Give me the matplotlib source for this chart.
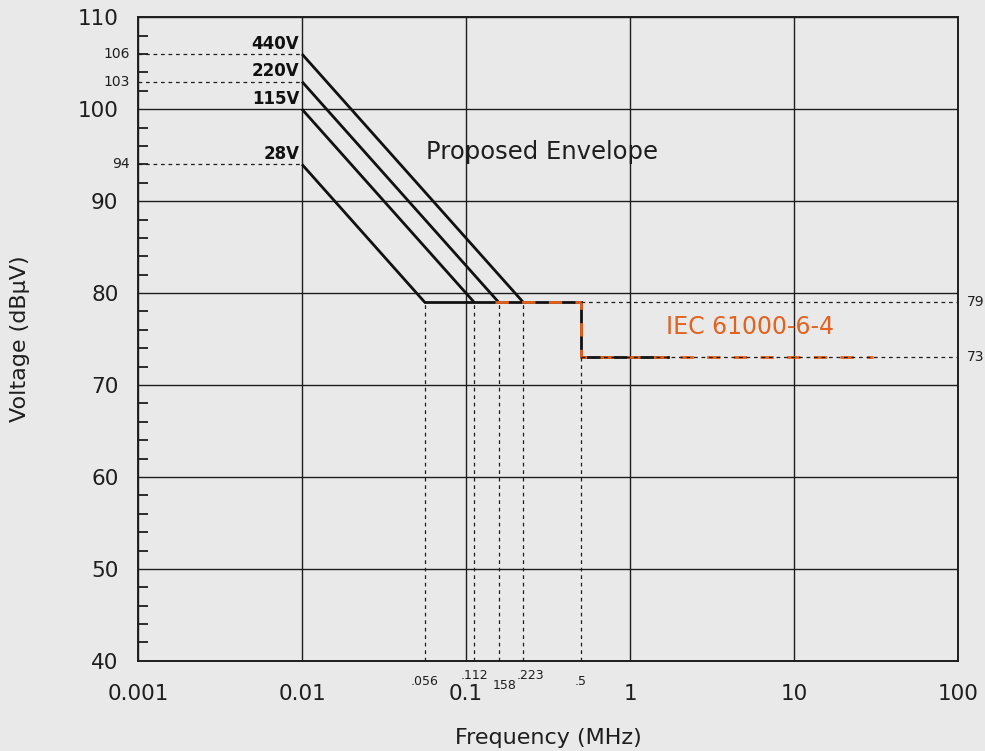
import matplotlib
matplotlib.use("Agg")
import matplotlib.pyplot as plt
from matplotlib.ticker import FixedLocator, NullLocator, FixedFormatter

plt.rcParams['font.family'] = ['DejaVu Sans']

# ---- data ----
voltages = ['440V', '220V', '115V', '28V']
start_freq = 0.01
start_level = [106, 103, 100, 94]
corner_freq = [0.223, 0.158, 0.112, 0.056]
corner_labels = ['.223', '158', '.112', '.056']
envelope_level = 79
envelope_end_freq = 0.5
iec_freq = [0.15, 0.5, 0.5, 30]
iec_level = [79, 79, 73, 73]
iec_black_freq = [0.5, 0.5, 1.7]
iec_black_level = [79, 73, 73]
left_marks = [106, 103, 94]
right_marks = [79, 73]
x_ticks = [0.001, 0.01, 0.1, 1, 10, 100]
x_tick_labels = ['0.001', '0.01', '0.1', '1', '10', '100']
y_ticks = [40, 50, 60, 70, 80, 90, 100, 110]

bg = '#e9e9e9'
orange = '#e2621f'
ink = '#1e1e1e'

fig = plt.figure(figsize=(9.85, 7.51), dpi=100, facecolor=bg)
ax = fig.add_axes([0.140, 0.120, 0.833, 0.857])
ax.set_facecolor(bg)
ax.set_xscale('log')
ax.set_xlim(0.001, 100)
ax.set_ylim(40, 110)

ax.xaxis.set_major_locator(FixedLocator(x_ticks))
ax.xaxis.set_major_formatter(FixedFormatter(x_tick_labels))
ax.xaxis.set_minor_locator(NullLocator())
ax.yaxis.set_major_locator(FixedLocator(y_ticks))
ax.yaxis.set_minor_locator(FixedLocator([v for v in range(40, 111, 2) if v % 10]))
ax.tick_params(axis='both', which='major', length=0, labelsize=15.5, labelcolor=ink)
ax.tick_params(axis='x', which='major', pad=17)
ax.tick_params(axis='y', which='major', pad=14)
ax.tick_params(axis='y', which='minor', direction='in', length=7, width=1.3, color=ink)
ax.grid(True, which='major', color=ink, lw=1.0)
for s in ax.spines.values():
    s.set_color(ink)
    s.set_linewidth(1.4)

dash_kw = dict(color=ink, lw=0.9, ls=(0, (3, 3)))

# voltage lines
for v, l0, fc in zip(voltages, start_level, corner_freq):
    ax.plot([start_freq, fc], [l0, envelope_level], color='#111111', lw=2.0, solid_capstyle='butt')
    ax.annotate(v, (start_freq, l0), xytext=(-2, 1), textcoords='offset points',
                ha='right', va='bottom', fontsize=12, fontweight='bold', color='#111111')

# horizontal envelope at 79
ax.plot([min(corner_freq), envelope_end_freq], [envelope_level, envelope_level],
        color='#111111', lw=2.0)
ax.plot(iec_black_freq, iec_black_level, color='#111111', lw=2.0)
ax.plot(iec_freq, iec_level, color=orange, lw=2.0, ls=(0, (4.8, 4.8)))

# dotted leaders from left axis
for lv in left_marks:
    ax.plot([0.001, start_freq], [lv, lv], **dash_kw)
    ax.annotate(str(lv), (0.001, lv), xytext=(-6, 0), textcoords='offset points',
                ha='right', va='center', fontsize=10, color=ink, annotation_clip=False)

# dotted verticals at corner frequencies
for fc in corner_freq:
    ax.plot([fc, fc], [40, envelope_level], **dash_kw)
ax.plot([envelope_end_freq, envelope_end_freq], [40, 73], **dash_kw)

# bottom small labels
offsets = {'.056': (0, -10), '.112': (0, -6), '158': (4, -13), '.223': (5, -6)}
for fc, lab in zip(corner_freq, corner_labels):
    dx, dy = offsets[lab]
    ax.annotate(lab, (fc, 40), xytext=(dx, dy), textcoords='offset points',
                ha='center', va='top', fontsize=9, color=ink, annotation_clip=False)
ax.annotate('.5', (envelope_end_freq, 40), xytext=(0, -10), textcoords='offset points',
            ha='center', va='top', fontsize=9, color=ink, annotation_clip=False)

# dotted right extensions
ax.plot([envelope_end_freq, 100], [79, 79], **dash_kw)
ax.plot([envelope_end_freq, 100], [73, 73], **dash_kw)
for lv in right_marks:
    ax.annotate(str(lv), (100, lv), xytext=(6, 0), textcoords='offset points',
                ha='left', va='center', fontsize=10, color=ink, annotation_clip=False)

ax.text(0.057, 95.3, 'Proposed Envelope', fontsize=17.5, color=ink, va='center', ha='left')
ax.text(1.66, 76.3, 'IEC 61000-6-4', fontsize=17, color=orange, va='center', ha='left')

ax.set_xlabel('Frequency (MHz)', fontsize=16, color=ink, labelpad=17)
ax.set_ylabel('Voltage (dBµV)', fontsize=16, color=ink, labelpad=34)

fig.savefig('out.png', dpi=100, facecolor=bg)
